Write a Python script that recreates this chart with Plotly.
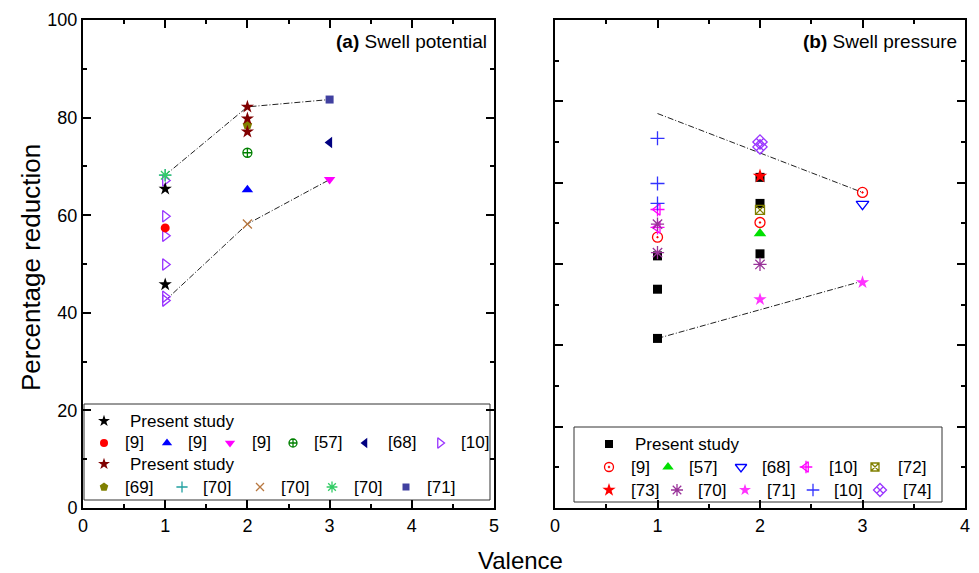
import plotly.graph_objects as go

W, H = 979, 573
FONT = "Liberation Sans, Arial, sans-serif"

# ---------------- Panel (a) Swell potential data ----------------
a_present1_x = [1, 1]
a_present1_y = [65.4, 45.8]
a_ref9_circ_x = [1]
a_ref9_circ_y = [57.4]
a_ref9_up_x = [2]
a_ref9_up_y = [65.2]
a_ref9_down_x = [3]
a_ref9_down_y = [67.3]
a_ref57_x = [2]
a_ref57_y = [72.8]
a_ref68_x = [3]
a_ref68_y = [74.9]
a_ref10_x = [1, 1, 1, 1, 1, 1]
a_ref10_y = [67.1, 59.8, 55.8, 49.9, 43.3, 42.5]
a_present2_x = [2, 2, 2]
a_present2_y = [82.2, 79.8, 77.1]
a_ref69_x = [2]
a_ref69_y = [78.5]
a_ref70_plus_x = [1]
a_ref70_plus_y = [68.2]
a_ref70_x_x = [2]
a_ref70_x_y = [58.2]
a_ref70_ast_x = [1]
a_ref70_ast_y = [68.2]
a_ref71_x = [3]
a_ref71_y = [83.7]
a_upper_x = [1, 2, 3]
a_upper_y = [68.2, 82.2, 83.7]
a_lower_x = [1, 2, 3]
a_lower_y = [42.5, 58.2, 67.3]

# ---------------- Panel (b) Swell pressure data ----------------
b_present_x = [1, 1, 1, 2, 2, 2]
b_present_y = [62.0, 53.8, 41.7, 81.3, 74.9, 62.5]
b_ref9_x = [1, 2, 3]
b_ref9_y = [66.6, 70.2, 77.6]
b_ref57_x = [2]
b_ref57_y = [67.5]
b_ref68_x = [3]
b_ref68_y = [74.7]
b_ref10a_x = [1, 1]
b_ref10a_y = [73.4, 69.0]
b_ref72_x = [2]
b_ref72_y = [73.3]
b_ref73_x = [2]
b_ref73_y = [81.6]
b_ref70_x = [1, 1, 2]
b_ref70_y = [69.8, 62.8, 59.9]
b_ref71_x = [2, 3]
b_ref71_y = [51.3, 55.5]
b_ref10b_x = [1, 1, 1]
b_ref10b_y = [90.9, 79.8, 74.9]
b_ref74_x = [2, 2]
b_ref74_y = [90.0, 88.8]
b_upper_x = [1, 3]
b_upper_y = [97.0, 77.6]
b_lower_x = [1, 3]
b_lower_y = [41.7, 55.8]

# ---------------- styles ----------------
S = {
    "a_p1": dict(symbol="star", color="black", size=10),
    "a_9c": dict(symbol="circle", color="#ff0000", size=9),
    "a_9u": dict(symbol="triangle-up", color="#0000ff", size=10),
    "a_9d": dict(symbol="triangle-down", color="#ff00ff", size=10),
    "a_57": dict(symbol="circle-cross-open", color="#008000", size=9),
    "a_68": dict(symbol="triangle-left", color="#000080", size=10),
    "a_10": dict(symbol="triangle-right-open", color="#9933ff", size=10),
    "a_p2": dict(symbol="star", color="#800000", size=10),
    "a_69": dict(symbol="pentagon", color="#808000", size=10),
    "a_70p": dict(symbol="cross-thin-open", color="#20a0a0", size=9),
    "a_70x": dict(symbol="x-thin-open", color="#b87840", size=9),
    "a_70a": dict(symbol="asterisk-open", color="#33cc66", size=10),
    "a_71": dict(symbol="square", color="#4040a0", size=8),
    "b_p": dict(symbol="square", color="black", size=9),
    "b_9": dict(symbol="circle-open-dot", color="#ff0000", size=10),
    "b_57": dict(symbol="triangle-up", color="#00e000", size=11),
    "b_68": dict(symbol="triangle-down-open", color="#0000ff", size=11),
    "b_10a": dict(symbol="triangle-left-open", color="#ff00ff", size=10),
    "b_10c": dict(symbol="cross-thin-open", color="#ff00ff", size=10),
    "b_72": dict(symbol="square-x-open", color="#808000", size=9),
    "b_73": dict(symbol="star", color="#ff0000", size=11),
    "b_70": dict(symbol="asterisk-open", color="#993399", size=11),
    "b_71": dict(symbol="star", color="#ff33ff", size=10),
    "b_10b": dict(symbol="cross-thin-open", color="#3333ff", size=10),
    "b_74": dict(symbol="diamond-x-open", color="#9933ff", size=11),
}


def mk(st):
    open_ = "open" in st["symbol"] or "thin" in st["symbol"]
    return dict(symbol=st["symbol"], size=st["size"], color=st["color"],
                line=dict(color=st["color"], width=1.3 if open_ else 0))


fig = go.Figure()


def add(x, y, key, xa, ya):
    fig.add_trace(go.Scatter(x=x, y=y, mode="markers", marker=mk(S[key]),
                             xaxis=xa, yaxis=ya, showlegend=False, cliponaxis=False))


def add_line(x, y, xa, ya):
    fig.add_trace(go.Scatter(x=x, y=y, mode="lines",
                             line=dict(color="#222", width=1, dash="6px,2px,1px,2px"),
                             xaxis=xa, yaxis=ya, showlegend=False))


add_line(a_upper_x, a_upper_y, "x", "y")
add_line(a_lower_x, a_lower_y, "x", "y")
add(a_ref10_x, a_ref10_y, "a_10", "x", "y")
add(a_ref70_plus_x, a_ref70_plus_y, "a_70p", "x", "y")
add(a_ref70_ast_x, a_ref70_ast_y, "a_70a", "x", "y")
add(a_present1_x, a_present1_y, "a_p1", "x", "y")
add(a_ref9_circ_x, a_ref9_circ_y, "a_9c", "x", "y")
add(a_ref9_up_x, a_ref9_up_y, "a_9u", "x", "y")
add(a_ref9_down_x, a_ref9_down_y, "a_9d", "x", "y")
add(a_ref57_x, a_ref57_y, "a_57", "x", "y")
add(a_ref68_x, a_ref68_y, "a_68", "x", "y")
add(a_ref69_x, a_ref69_y, "a_69", "x", "y")
add(a_present2_x, a_present2_y, "a_p2", "x", "y")
add(a_ref70_x_x, a_ref70_x_y, "a_70x", "x", "y")
add(a_ref71_x, a_ref71_y, "a_71", "x", "y")

add_line(b_upper_x, b_upper_y, "x2", "y2")
add_line(b_lower_x, b_lower_y, "x2", "y2")
add(b_present_x, b_present_y, "b_p", "x2", "y2")
add(b_ref9_x, b_ref9_y, "b_9", "x2", "y2")
add(b_ref57_x, b_ref57_y, "b_57", "x2", "y2")
add(b_ref68_x, b_ref68_y, "b_68", "x2", "y2")
add(b_ref10a_x, b_ref10a_y, "b_10a", "x2", "y2")
add(b_ref10a_x, b_ref10a_y, "b_10c", "x2", "y2")
add(b_ref72_x, b_ref72_y, "b_72", "x2", "y2")
add(b_ref73_x, b_ref73_y, "b_73", "x2", "y2")
add(b_ref70_x, b_ref70_y, "b_70", "x2", "y2")
add(b_ref71_x, b_ref71_y, "b_71", "x2", "y2")
add(b_ref10b_x, b_ref10b_y, "b_10b", "x2", "y2")
add(b_ref74_x, b_ref74_y, "b_74", "x2", "y2")

# ---------------- manual legends (pixel layout on a hidden overlay axis) ----------------
legend_a = [
    [("a_p1", 104, "Present study", 128)],
    [("a_9c", 104, "[9]", 123), ("a_9u", 167, "[9]", 186), ("a_9d", 230, "[9]", 250),
     ("a_57", 293, "[57]", 312), ("a_68", 365, "[68]", 386), ("a_10", 440, "[10]", 459)],
    [("a_p2", 104, "Present study", 128)],
    [("a_69", 104, "[69]", 123), ("a_70p", 182, "[70]", 201), ("a_70x", 260, "[70]", 279),
     ("a_70a", 332, "[70]", 352), ("a_71", 406, "[71]", 425)],
]
legend_a_rows = [421, 443, 464, 487]
legend_b = [
    [("b_p", 609, "Present study", 633)],
    [("b_9", 609, "[9]", 629), ("b_57", 668, "[57]", 687), ("b_68", 741, "[68]", 760),
     (("b_10a", "b_10c"), 806, "[10]", 827), ("b_72", 875, "[72]", 896)],
    [("b_73", 609, "[73]", 629), ("b_70", 677, "[70]", 696), ("b_71", 745, "[71]", 765),
     ("b_10b", 813, "[10]", 832), ("b_74", 880, "[74]", 901)],
]
legend_b_rows = [444, 467, 490]

annotations = []
for rows, ys in ((legend_a, legend_a_rows), (legend_b, legend_b_rows)):
    for row, yy in zip(rows, ys):
        for key, mx, txt, tx in row:
            keys = key if isinstance(key, tuple) else (key,)
            for k in keys:
                st = dict(S[k])
                st["size"] = max(st["size"] - 1, 7)
                fig.add_trace(go.Scatter(x=[mx], y=[yy], mode="markers", marker=mk(st),
                                         xaxis="x3", yaxis="y3", showlegend=False,
                                         hoverinfo="skip"))
            annotations.append(dict(x=tx / W, y=1 - yy / H, xref="paper", yref="paper",
                                    text=txt, showarrow=False, xanchor="left",
                                    yanchor="middle",
                                    font=dict(family=FONT, size=17, color="black")))

annotations += [
    dict(x=489 / W, y=1 - 42 / H, xref="paper", yref="paper", xanchor="right",
         yanchor="middle", showarrow=False, text="<b>(a)</b> Swell potential",
         font=dict(family=FONT, size=19, color="black")),
    dict(x=959 / W, y=1 - 42 / H, xref="paper", yref="paper", xanchor="right",
         yanchor="middle", showarrow=False, text="<b>(b)</b> Swell pressure",
         font=dict(family=FONT, size=19, color="black")),
    dict(x=31 / W, y=1 - 268 / H, xref="paper", yref="paper", xanchor="center",
         yanchor="middle", showarrow=False, text="Percentage reduction", textangle=-90,
         font=dict(family=FONT, size=26, color="black")),
    dict(x=520 / W, y=1 - 560 / H, xref="paper", yref="paper", xanchor="center",
         yanchor="middle", showarrow=False, text="Valence",
         font=dict(family=FONT, size=24, color="black")),
]

shapes = [
    dict(type="rect", xref="paper", yref="paper", x0=84 / W, x1=490 / W,
         y0=1 - 500 / H, y1=1 - 404 / H, line=dict(color="#333", width=1),
         fillcolor="rgba(0,0,0,0)", layer="below"),
    dict(type="rect", xref="paper", yref="paper", x0=574 / W, x1=942 / W,
         y0=1 - 502 / H, y1=1 - 427 / H, line=dict(color="#333", width=1),
         fillcolor="rgba(0,0,0,0)", layer="below"),
]

TOP, BOT = 20, 508
ydom = [1 - BOT / H, 1 - TOP / H]
axis_common = dict(showline=True, linewidth=2, linecolor="black", mirror="allticks",
                   ticks="inside", ticklen=8, tickwidth=1.5, tickcolor="black",
                   showgrid=False, zeroline=False, automargin=False,
                   tickfont=dict(family=FONT, size=18, color="black"))

fig.update_layout(
    width=W, height=H, margin=dict(l=0, r=0, t=0, b=0, autoexpand=False),
    paper_bgcolor="white", plot_bgcolor="rgba(0,0,0,0)",
    showlegend=False,
    xaxis=dict(domain=[83 / W, 494 / W], range=[0, 5], dtick=1, tick0=0,
               minor=dict(dtick=0.5, ticklen=4, ticks="inside", tickcolor="black"),
               anchor="y", **axis_common),
    yaxis=dict(domain=ydom, range=[0, 100], dtick=20, tick0=0,
               minor=dict(dtick=10, ticklen=4, ticks="inside", tickcolor="black"),
               anchor="x", **axis_common),
    xaxis2=dict(domain=[555 / W, 965 / W], range=[0, 4], dtick=1, tick0=0,
                minor=dict(dtick=0.5, ticklen=4, ticks="inside", tickcolor="black"),
                anchor="y2", **axis_common),
    yaxis2=dict(domain=ydom, range=[0, 120], dtick=20, tick0=0, showticklabels=False,
                minor=dict(dtick=10, ticklen=4, ticks="inside", tickcolor="black"),
                anchor="x2", **axis_common),
    xaxis3=dict(domain=[0, 1], range=[0, W], visible=False, anchor="y3", fixedrange=True,
                automargin=False),
    yaxis3=dict(domain=[0, 1], range=[H, 0], visible=False, anchor="x3", fixedrange=True,
                automargin=False),
    annotations=annotations,
    shapes=shapes,
)

fig.write_html("out.html")
